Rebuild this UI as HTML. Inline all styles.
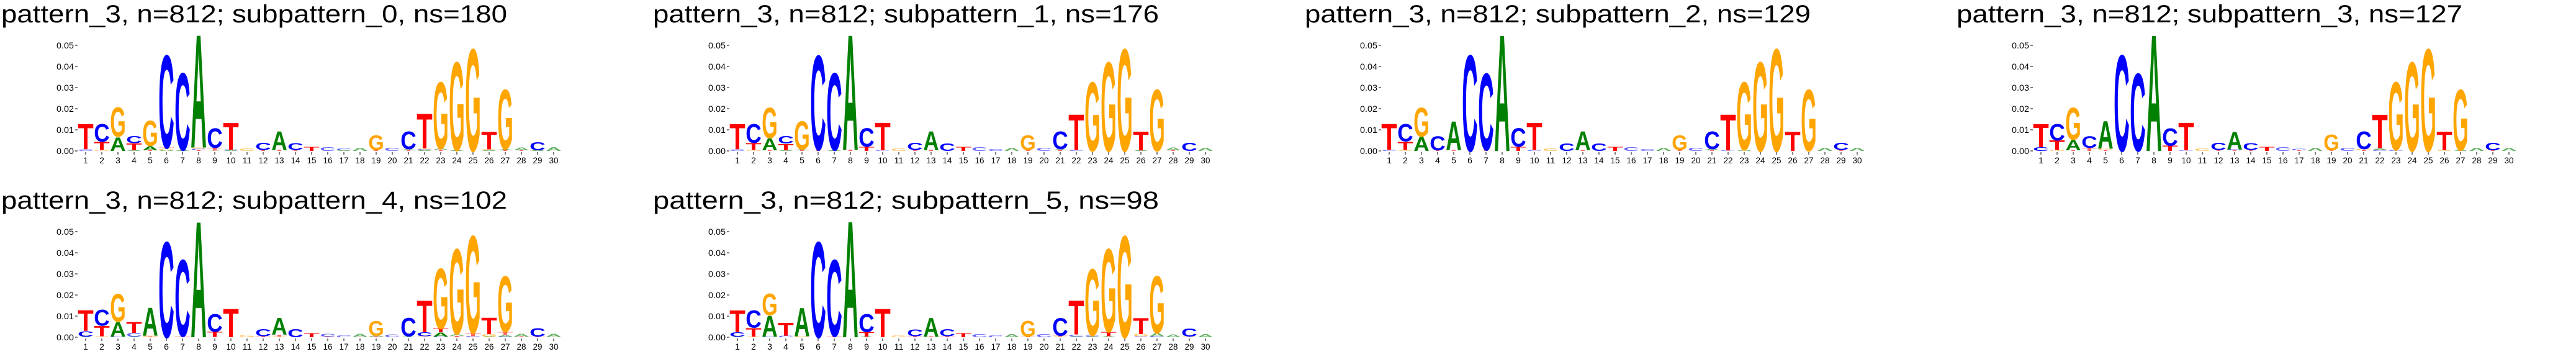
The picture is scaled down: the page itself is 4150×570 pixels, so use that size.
<!DOCTYPE html>
<html><head><meta charset="utf-8">
<style>
html,body{margin:0;padding:0;background:#fff;width:4150px;height:570px;overflow:hidden;}
svg{display:block;overflow:hidden;}
</style></head>
<body>
<svg id="chart" width="4150" height="570" viewBox="0 0 4150 570" xmlns="http://www.w3.org/2000/svg"></svg>
<script>
// Titles
const titles = [
 "pattern_3, n=812; subpattern_0, ns=180",
 "pattern_3, n=812; subpattern_1, ns=176",
 "pattern_3, n=812; subpattern_2, ns=129",
 "pattern_3, n=812; subpattern_3, ns=127",
 "pattern_3, n=812; subpattern_4, ns=102",
 "pattern_3, n=812; subpattern_5, ns=98"
];
const yTicks = [0.00, 0.01, 0.02, 0.03, 0.04, 0.05];
const yTickLabels = ["0.00","0.01","0.02","0.03","0.04","0.05"];
const positions = [1,2,3,4,5,6,7,8,9,10,11,12,13,14,15,16,17,18,19,20,21,22,23,24,25,26,27,28,29,30];
// stacks per position, bottom to top, heights in units of 0.001
const logo0 = ["C0.8 T12.4","G0.4 T4 C8.7","A6.7 G14.3","A0.3 T3.4 C3.5","T0.3 A2 G12.3","A0.5 G0.5 T0.5 C45.4","A0.4 C37.8","T0.5 C0.5 G0.6 A55.4","A0.2 T1.3 C9.6","A0.3 C0.3 T13.2","G1.2","T0.4 C3.5","T0.5 A9.2","T0.4 C3.3","T2","C1.7","A0.3 C1","A1.5","T0.4 G7.3","C1.5","T0.3 A0.6 C8.6","A0.3 C0.5 G0.4 T17","T0.6 A0.5 G32.7","A0.3 G43.3","G50","A0.3 G0.5 T8.7","T0.5 A0.4 G29.2","T0.3 A1.3","A0.3 C3.9","A1.7"];
const logo1 = ["C0.8 T12.4","G0.4 T3.4 C9.3","T0.3 A5.8 G14.9","A0.3 T3.2 C3.7","T0.3 A0.4 G13.8","T0.6 C46.2","A0.4 C37.8","T0.5 A56.5","T2 C9.1","C0.3 T13.5","G1.2","T0.4 C3.5","T0.5 A9.2","C3.7","T2","C1.7","C1","A1.5","T0.4 G7.3","C1.5","T0.3 A0.6 C8.6","C0.5 T17.5","G33.8","G43.6","G50","A0.3 T9.2","G30.1","T0.3 A1.3","C4","A1.6"];
const logo2 = ["C0.5 T12.7","G0.5 T4 C8.5","A6.8 G14.2","T0.3 C6.9","T0.3 A14.2","C47","T0.5 C37.5","A57","T2 C9","C0.5 T13.3","G1.2","C3.7","T0.4 A9.3","C3.7","T2","C1.7","C1","A1.5","T0.4 G7.3","C1.5","T0.4 A0.5 C8.6","C0.3 T17.7","A0.5 G33.3","G43.6","G50","T9.4","G30.1","A1.5","T0.5 C3.6","A1.6"];
const logo3 = ["C1.8 T11.4","G0.4 T4.6 C8","T0.3 A5 G15.7","T1.5 C5.7","T0.5 G0.5 A13.5","C47","C38","A57","T2.5 C8.5","C0.3 T13.5","G1.2","T0.4 C3.5","T0.3 C0.5 A8.7","T0.4 C3.3","T2","C1.7","T0.3 C0.8","A1.5","T0.3 G7.7","C1.5","T0.4 G0.5 C8.6","C0.5 A0.8 T16.5","C0.5 G33.3","G43.6","G50","G0.5 T9","A0.3 G29.8","A1.5","T0.3 C3.7","A1.6"];
const logo4 = ["A0.3 C2.6 T10.3","G0.4 T5 C7.8","C0.3 A7 G13.6","A0.3 C1.7 T5.2","T0.3 G0.5 A13.7","C46.8","T0.5 C37.5","A56.8","A0.2 T2.5 C8.6","T13.9","G1.2","T0.5 C3.5","G0.3 T0.9 A8.3","C3.9","T2","T0.3 C1.4","C1","T0.2 A1.5","T0.3 A0.5 G7.3","C1.4","A0.4 C9.1","G0.4 C2 T15.6","C0.3 A2 T1.8 G29.5","T0.6 A0.9 G41.8","C0.5 T1.5 G47.7","A0.3 G1.2 T8","C0.3 A0.7 T1.6 G27.3","T0.3 A1.3","T0.3 C4.1","T0.2 A1.6"];
const logo5 = ["A0.3 C2.2 T10.7","G0.3 T4.2 C8.5","C0.3 A10.2 G10.5","C0.8 T6.3","G0.5 A14","C46.8","T0.5 C37.5","A57","A0.3 T2.2 C8.8","T13.9","G1","T0.5 C3.3","T0.3 A9.2","T0.5 C3.5","T2","C1.5","C1","A1.5","T0.3 G7.7","C1.5","G0.3 T0.5 C8.7","A0.3 C1 T16.7","A0.3 C0.5 G32.7","A0.5 T2.1 G40.7","G49.7","C0.4 G1.1 T7.9","C0.5 A1.5 G28","A1.3","G0.3 C3.9","A1.5"];
const logos = [logo0, logo1, logo2, logo3, logo4, logo5];

const colors = {A:"#008000", C:"#0000ff", G:"#ffa500", T:"#ff0000"};
const NS = "http://www.w3.org/2000/svg";
const svg = document.getElementById('chart');
const colW = 1050, rowH = 300, step = 26, letterW = 25.5;
function mk(tag, attrs, parent){ const e=document.createElementNS(NS,tag); for(const k in attrs) e.setAttribute(k,attrs[k]); parent.appendChild(e); return e; }

logos.forEach((logo, p) => {
  const L = (p % 4) * colW, R = Math.floor(p / 4) * rowH;
  const yScale = v => R + 243 - v * 3400;
  const xScale = pos => L + 138 + (pos - 1) * step;
  const g = mk('g', {}, svg);
  
  
  const t = mk('text', {x: L + 2, y: R + 36, 'font-family': '"Liberation Sans", sans-serif', 'font-size': 40, fill: '#000', textLength: 815, lengthAdjust: 'spacingAndGlyphs'}, g);
  t.textContent = titles[p];
  
  
  yTicks.forEach((v, i) => {
    const y = yScale(v);
    const tl = mk('line', {x1: L + 121, x2: L + 125, y1: y, y2: y, stroke: '#000', 'stroke-width': 1}, g);
    
    
    const lb = mk('text', {x: L + 119, y: y + 5, 'text-anchor': 'end', 'font-family': '"Liberation Sans", sans-serif', 'font-size': 14, fill: '#000', textLength: 28, lengthAdjust: 'spacingAndGlyphs'}, g);
    lb.textContent = yTickLabels[i];
    
    
  });
  positions.forEach(pos => {
    const x = xScale(pos);
    const tk = mk('line', {x1: x, x2: x, y1: R + 245, y2: R + 249, stroke: '#000', 'stroke-width': 1}, g);
    
    
    const lb = mk('text', {x: x, y: R + 263, 'text-anchor': 'middle', 'font-family': '"Liberation Sans", sans-serif', 'font-size': 14, fill: '#000'}, g);
    lb.textContent = String(pos);
    if (pos >= 10) { lb.setAttribute('textLength', 15); lb.setAttribute('lengthAdjust', 'spacingAndGlyphs'); }
    
    
  });
  logo.forEach((stack, i) => {
    const x0 = xScale(positions[i]) - letterW / 2;
    let base = 0;
    stack.split(' ').forEach(tok => {
      const letter = tok[0];
      const h = parseFloat(tok.slice(1)) / 1000;
      const yb = yScale(base), yt = yScale(base + h);
      const ph = yb - yt;
      base += h;
      if (ph <= 0) return;
      const lt = mk('text', {x: 0, y: 0, 'font-family': '"Liberation Sans", sans-serif', 'font-weight': 'bold', 'font-size': 100, fill: colors[letter], textLength: letterW, lengthAdjust: 'spacingAndGlyphs', transform: `translate(${x0},${yb}) scale(1,${ph / 72})`}, g);
      if (ph < 6) lt.setAttribute('opacity', '0.6');
      lt.textContent = letter;
      
      
    });
  });
});
</script>
</body></html>
